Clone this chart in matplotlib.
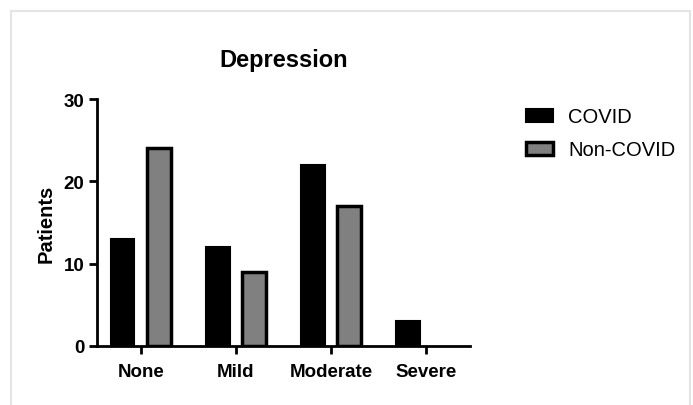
import matplotlib
matplotlib.use("Agg")
import matplotlib.pyplot as plt
from matplotlib.patches import Rectangle
import numpy as np

categories = ["None", "Mild", "Moderate", "Severe"]
covid = [13, 12, 22, 3]
non_covid = [24, 9, 17, 0]
series_names = ["COVID", "Non-COVID"]
y_ticks = [0, 10, 20, 30]

plt.rcParams['font.family'] = ['Liberation Sans', 'DejaVu Sans']

fig = plt.figure(figsize=(6.93, 4.06), dpi=100)
fig.patches.append(Rectangle((11/693, -0.05), (690-11)/693, (406-12)/406 + 0.05,
                             transform=fig.transFigure, fill=False,
                             edgecolor='#e4e4e4', linewidth=1.5, zorder=0))
ax = fig.add_axes([97/693, 59/406, (470-97)/693, (347-100)/406])

x = np.arange(len(categories))
w = 0.245
off = 0.19
b1 = ax.bar(x - off, covid, w, color='black', edgecolor='black', linewidth=1.5,
            label=series_names[0])
b2 = ax.bar(x + off, non_covid, w, color='#808080', edgecolor='black', linewidth=2.5,
            label=series_names[1])
for bars, vals in ((b1, covid), (b2, non_covid)):
    for r, v in zip(bars, vals):
        if v == 0:
            r.set_linewidth(0)

ax.set_xlim(-0.46, 3.46)
ax.set_ylim(0, 30)
ax.set_yticks(y_ticks)
ax.set_xticks(x)
ax.set_xticklabels(categories, fontsize=13.5, fontweight='bold')
for lbl in ax.get_yticklabels():
    lbl.set_fontsize(13.5)
    lbl.set_fontweight('bold')
ax.spines['top'].set_visible(False)
ax.spines['right'].set_visible(False)
for s in ['left', 'bottom']:
    ax.spines[s].set_linewidth(2)
ax.tick_params(axis='both', width=2, length=6, pad=3)
ax.tick_params(axis='x', pad=6)
ax.set_ylabel("Patients", fontsize=14.5, fontweight='bold', labelpad=6)
ax.set_title("Depression", fontsize=17, fontweight='bold', pad=24)

leg = ax.legend(loc='upper left', bbox_to_anchor=(1.102, 1.04), frameon=False,
                fontsize=14.5, handlelength=1.34, handleheight=0.6,
                handletextpad=0.75, labelspacing=0.7)

fig.savefig("out.png", dpi=100)
